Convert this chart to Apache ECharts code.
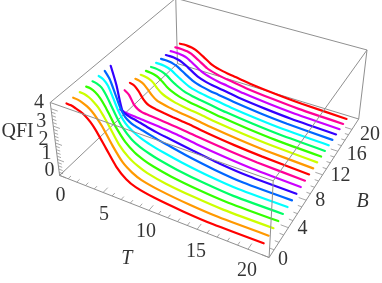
<!DOCTYPE html>
<html><head><meta charset="utf-8">
<style>html,body{margin:0;padding:0;background:#fff}#c{width:382px;height:283px}</style>
<script src="https://cdn.jsdelivr.net/npm/echarts@6/dist/echarts.min.js"></script>
</head><body><div id="c"></div>
<script>
const T = [1,1.5,2,2.5,3,3.5,4,5,6,7,8,10,13,16,21];
const B = [1,2,3,4,5,6,7,8,9,10,11,12,13,14,15,16,17,18,19,20,21];
const colors = ['#ff0000','#ff9900','#ccff00','#33ff00','#00ff66','#00ffff','#0066ff','#3300ff','#cc00ff','#ff0099'];
const Q0=[4.15,4.13,4.05,3.95,3.8,3.55,3.2,2.3,1.4,.85,.58,.36,.2,.12,.15];
const Q1=[4.15,4.13,4.05,3.92,3.72,3.42,3.05,2.1,1.3,.87,.62,.4,.22,.13,.16];
const Q2=[4.15,4.13,4.03,3.85,3.6,3.2,2.75,1.8,1.22,.88,.66,.43,.25,.15,.17];
const Q3=[4.15,4.13,4.0,3.75,3.35,2.85,2.35,1.6,1.15,.88,.7,.47,.27,.16,.17];
const Q4=[4.15,4.1,3.95,3.55,3.0,2.45,2.0,1.42,1.1,.9,.74,.52,.3,.17,.18];
const Q5=[4.15,4.05,3.75,3.1,2.4,1.95,1.65,1.3,1.08,.92,.79,.57,.33,.19,.18];
const Q6=[4.15,3.75,3.0,2.2,1.72,1.5,1.38,1.24,1.1,.96,.85,.62,.36,.2,.18];
const Q7=[4.15,3.1,1.6,1.42,1.33,1.28,1.21,1.07,.95,.86,.78,.6,.37,.23,.18];
const Q8=[1.15,1.08,1.05,1.03,1.01,.99,.97,.93,.88,.83,.77,.6,.42,.29,.2];
const Q9=[2.05,1.85,1.35,1.1,1.0,.97,.95,.9,.85,.8,.74,.6,.43,.31,.2];
const Q10=[2.2,2.12,1.85,1.45,1.2,1.1,1.05,.97,.9,.84,.78,.62,.44,.32,.2];
const Q11=[2.15,2.1,1.98,1.7,1.4,1.2,1.12,1.0,.92,.85,.78,.62,.44,.31,.2];
const Q12=[2.1,2.07,2.0,1.85,1.55,1.33,1.2,1.03,.93,.85,.78,.62,.44,.31,.2];
const Q13=[2.05,2.03,1.98,1.88,1.68,1.45,1.28,1.06,.94,.85,.78,.61,.43,.3,.2];
const Q14=[2.0,2.0,1.96,1.88,1.74,1.52,1.35,1.08,.94,.85,.77,.6,.42,.29,.19];
const Q15=[1.97,1.97,1.94,1.88,1.76,1.57,1.4,1.1,.94,.84,.76,.59,.41,.28,.19];
const Q16=[1.94,1.94,1.92,1.87,1.77,1.6,1.43,1.11,.94,.83,.75,.58,.4,.28,.18];
const Q17=[1.9,1.91,1.9,1.85,1.76,1.61,1.44,1.11,.93,.82,.74,.56,.39,.27,.18];
const Q18=[1.87,1.88,1.87,1.83,1.75,1.6,1.43,1.1,.92,.8,.72,.55,.38,.26,.17];
const Q19=[1.84,1.85,1.84,1.81,1.73,1.58,1.42,1.08,.9,.78,.7,.53,.37,.25,.17];
const Q20=[1.8,1.82,1.81,1.78,1.7,1.55,1.39,1.05,.87,.76,.68,.52,.36,.25,.16];
const QFI=[Q0,Q1,Q2,Q3,Q4,Q5,Q6,Q7,Q8,Q9,Q10,Q11,Q12,Q13,Q14,Q15,Q16,Q17,Q18,Q19,Q20];
const tTicks=[0,5,10,15,20], bTicks=[0,4,8,12,16,20], qTicks=[0,1,2,3,4];
const tMax=22,bMax=22,qMax=4.35;

// perspective camera fitted to the eight corners of the box as seen on the page
const corners=[[0,0,0,61,177],[1,0,0,269,258],[1,1,0,358,120],[0,1,0,177,61],
               [0,0,1,49,102],[1,0,1,273,179],[1,1,1,368,50],[0,1,1,176,0]];
function fitCamera(){
  const A=[],b=[];
  corners.forEach(([X,Y,Z,u,v])=>{
    A.push([X,Y,Z,1,0,0,0,0,-u*X,-u*Y,-u*Z]);b.push(u);
    A.push([0,0,0,0,X,Y,Z,1,-v*X,-v*Y,-v*Z]);b.push(v);
  });
  const n=11,M=[];
  for(let i=0;i<n;i++){M.push(new Array(n+1).fill(0));
    for(let j=0;j<n;j++)for(let k=0;k<A.length;k++)M[i][j]+=A[k][i]*A[k][j];
    for(let k=0;k<A.length;k++)M[i][n]+=A[k][i]*b[k];}
  for(let i=0;i<n;i++){let p=i;for(let r=i+1;r<n;r++)if(Math.abs(M[r][i])>Math.abs(M[p][i]))p=r;
    [M[i],M[p]]=[M[p],M[i]];
    for(let r=0;r<n;r++)if(r!==i){const f=M[r][i]/M[i][i];for(let c=i;c<=n;c++)M[r][c]-=f*M[i][c];}}
  return M.map((r,i)=>r[n]/r[i]);
}
const P=fitCamera();
function proj(t,bb,q){const X=t/tMax,Y=bb/bMax,Z=q/qMax;
  const w=P[8]*X+P[9]*Y+P[10]*Z+1;
  return [(P[0]*X+P[1]*Y+P[2]*Z+P[3])/w,(P[4]*X+P[5]*Y+P[6]*Z+P[7])/w];}

const grey='#909090';
function seg(list,name,width,z){return {type:'line',name,silent:true,showSymbol:false,symbol:'none',z,animation:false,clip:false,
  connectNulls:false,lineStyle:{color:grey,width:width},data:list};}
function edges(pairs){const d=[];pairs.forEach(([p,q])=>{d.push(proj(...p),proj(...q),[null,null]);});return d;}
const o=[0,0,0],x=[tMax,0,0],xy=[tMax,bMax,0],y=[0,bMax,0],oz=[0,0,qMax],xz=[tMax,0,qMax],xyz=[tMax,bMax,qMax],yz=[0,bMax,qMax];
const backEdges=edges([[y,o],[y,xy],[y,yz],[xy,xyz],[yz,xyz],[yz,oz]]);
const frontEdges=edges([[o,x],[x,xy],[o,oz],[x,xz],[oz,xz],[xz,xyz]]);
const tick=[];
for(let t=0;t<=20;t++){const l=t%5===0?0.75:0.45;tick.push(proj(t,0,0),proj(t,l,0),[null,null]);}
for(let b=0;b<=20;b+=1){const l=b%4===0?0.75:0.4;tick.push(proj(tMax,b,0),proj(tMax-l,b,0),[null,null]);}
for(let i=0;i<=20;i++){const q=i/5,l=i%5===0?0.75:0.45;tick.push(proj(0,0,q),proj(l,0,q),[null,null]);}

const curves=QFI.map((row,i)=>({type:'line',name:'B='+B[i],showSymbol:false,symbol:'none',smooth:0.25,animation:false,clip:false,
  z:40-i,lineStyle:{color:colors[i%10],width:2.2,cap:'round'},
  data:row.map((q,k)=>proj(T[k],B[i],q))})).reverse();

const font={fontFamily:'"Liberation Serif",serif',fontSize:20,color:'#000'};
function labels(items){return {type:'scatter',silent:true,symbolSize:0,z:60,animation:false,clip:false,
  data:items.map(it=>({value:it.p,label:{show:true,position:'inside',formatter:it.s,offset:it.o,...font,fontStyle:it.it?'italic':'normal'}}))};}
const tOff=[[1,20],[1,22],[-3,21],[-1,22],[-1,22]];
const bOff=[[14,2],[14,1],[14,1],[18,1],[19,3],[18,5]];
const qOff=[[-10,-5],[-11,-6],[-12,-3],[-12,-4],[-12,-6]];
const tl=labels([
 ...tTicks.map((t,i)=>({p:proj(t,0,0),s:String(t),o:tOff[i]})),
 ...bTicks.map((b,i)=>({p:proj(tMax,b,0),s:String(b),o:bOff[i]})),
 ...qTicks.map((q,i)=>({p:proj(0,0,q),s:String(q),o:qOff[i]})),
 {p:proj(10,0,0),s:'T',o:[-22,48],it:true},
 {p:proj(tMax,10,0),s:'B',o:[48,14],it:true},
 {p:proj(0,0,2.4),s:'QFI',o:[-37,-5]}
]);

const chart=echarts.init(document.getElementById('c'),null,{renderer:'canvas'});
chart.setOption({animation:false,backgroundColor:'#fff',
  grid:{left:0,right:0,top:0,bottom:0},
  xAxis:{type:'value',min:0,max:382,show:false},
  yAxis:{type:'value',min:0,max:283,inverse:true,show:false},
  series:[seg(backEdges,'back',1,1),seg(tick,'ticks',0.8,2),...curves,seg(frontEdges,'front',1,50),tl]});
</script></body></html>
